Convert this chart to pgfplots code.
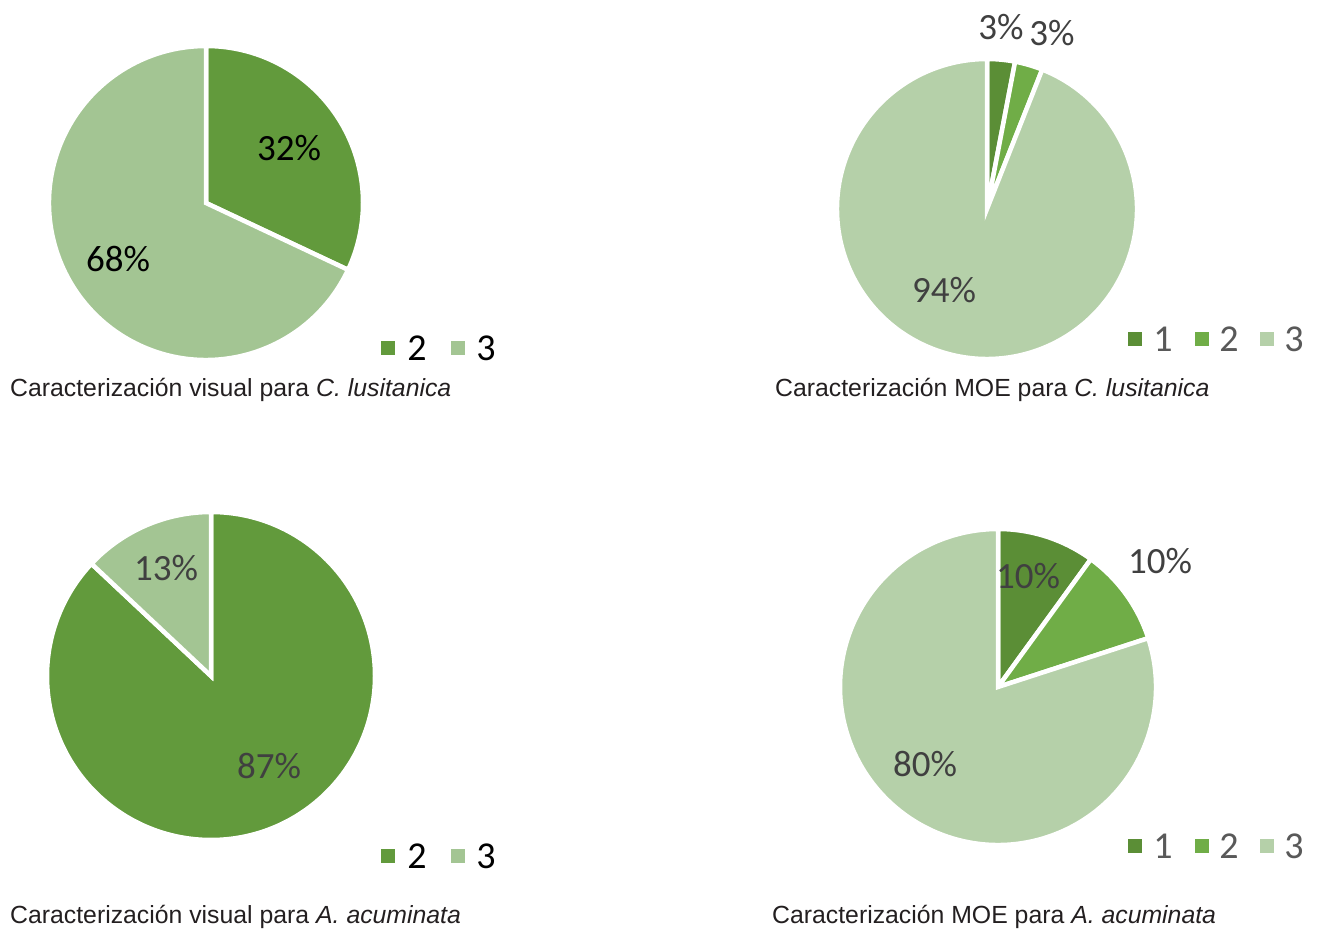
\documentclass[border=0pt]{standalone}
\usepackage{pgfplots}
\pgfplotsset{compat=1.18}
\usepackage{fontspec}
\setmainfont{Liberation Sans}
\newfontfamily\lab{Carlito}
\definecolor{dA}{HTML}{629A3C}
\definecolor{lA}{HTML}{A3C593}
\definecolor{m1}{HTML}{5B8E36}
\definecolor{m2}{HTML}{70AD47}
\definecolor{m3}{HTML}{B5D0A9}
\definecolor{tg}{HTML}{404040}
\definecolor{lg}{HTML}{595959}
\definecolor{cap}{HTML}{231F20}
\begin{document}
\begin{tikzpicture}
\begin{axis}[width=1318pt,height=929pt,scale only axis,
  xmin=0,xmax=1318,ymin=0,ymax=929,hide axis,clip=false]
% --- Pie 1: visual C. lusitanica (2: 32, 3: 68)
\fill[dA,draw=white,line width=4.5pt] (axis cs:206,726) -- ++(90:157pt) arc[start angle=90,end angle={90-3.6*32},radius=157pt] -- cycle;
\fill[lA,draw=white,line width=4.5pt] (axis cs:206,726) -- ++({90-3.6*32}:157pt) arc[start angle={90-3.6*32},end angle={90-3.6*100},radius=157pt] -- cycle;
\node[font=\lab\fontsize{37}{40}\selectfont,text=black] at (axis cs:289,781) {32\%};
\node[font=\lab\fontsize{37}{40}\selectfont,text=black] at (axis cs:118,670) {68\%};
\fill[dA] (axis cs:381,574) rectangle (axis cs:395,588);
\node[font=\lab\fontsize{38}{40}\selectfont,text=black] at (axis cs:417,581) {2};
\fill[lA] (axis cs:451,574) rectangle (axis cs:465,588);
\node[font=\lab\fontsize{38}{40}\selectfont,text=black] at (axis cs:486,581) {3};
\node[anchor=base west,inner sep=0pt,font=\fontsize{24.8}{28}\selectfont,text=cap] at (axis cs:10,532) {Caracterización visual para \textit{C. lusitanica}};
% --- Pie 2: MOE C. lusitanica (1: 3, 2: 3, 3: 94)
\fill[m1,draw=white,line width=4.5pt] (axis cs:987,720) -- ++(90:150pt) arc[start angle=90,end angle={90-3.6*3},radius=150pt] -- cycle;
\fill[m2,draw=white,line width=4.5pt] (axis cs:987,720) -- ++({90-3.6*3}:150pt) arc[start angle={90-3.6*3},end angle={90-3.6*6},radius=150pt] -- cycle;
\fill[m3,draw=white,line width=4.5pt] (axis cs:987,720) -- ++({90-3.6*6}:150pt) arc[start angle={90-3.6*6},end angle={90-3.6*100},radius=150pt] -- cycle;
\node[font=\lab\fontsize{37}{40}\selectfont,text=tg] at (axis cs:1001,902) {3\%};
\node[font=\lab\fontsize{37}{40}\selectfont,text=tg] at (axis cs:1052,896) {3\%};
\node[font=\lab\fontsize{37}{40}\selectfont,text=tg] at (axis cs:944,639) {94\%};
\fill[m1] (axis cs:1128,583) rectangle (axis cs:1142,597);
\node[font=\lab\fontsize{38}{40}\selectfont,text=lg] at (axis cs:1163,590) {1};
\fill[m2] (axis cs:1195,583) rectangle (axis cs:1209,597);
\node[font=\lab\fontsize{38}{40}\selectfont,text=lg] at (axis cs:1229,590) {2};
\fill[m3] (axis cs:1260,583) rectangle (axis cs:1274,597);
\node[font=\lab\fontsize{38}{40}\selectfont,text=lg] at (axis cs:1294,590) {3};
\node[anchor=base west,inner sep=0pt,font=\fontsize{24.8}{28}\selectfont,text=cap] at (axis cs:775,532) {Caracterización MOE para \textit{C. lusitanica}};
% --- Pie 3: visual A. acuminata (2: 87, 3: 13)
\fill[dA,draw=white,line width=4.5pt] (axis cs:211,253) -- ++(90:164pt) arc[start angle=90,end angle={90-3.6*87},radius=164pt] -- cycle;
\fill[lA,draw=white,line width=4.5pt] (axis cs:211,253) -- ++({90-3.6*87}:164pt) arc[start angle={90-3.6*87},end angle={90-3.6*100},radius=164pt] -- cycle;
\node[font=\lab\fontsize{37}{40}\selectfont,text=tg] at (axis cs:166,361) {13\%};
\node[font=\lab\fontsize{37}{40}\selectfont,text=tg] at (axis cs:269,163) {87\%};
\fill[dA] (axis cs:381,66) rectangle (axis cs:395,80);
\node[font=\lab\fontsize{38}{40}\selectfont,text=black] at (axis cs:417,73) {2};
\fill[lA] (axis cs:451,66) rectangle (axis cs:465,80);
\node[font=\lab\fontsize{38}{40}\selectfont,text=black] at (axis cs:486,73) {3};
\node[anchor=base west,inner sep=0pt,font=\fontsize{24.8}{28}\selectfont,text=cap] at (axis cs:10,5) {Caracterización visual para \textit{A. acuminata}};
% --- Pie 4: MOE A. acuminata (1: 10, 2: 10, 3: 80)
\fill[m1,draw=white,line width=4.5pt] (axis cs:998,242) -- ++(90:158pt) arc[start angle=90,end angle={90-3.6*10},radius=158pt] -- cycle;
\fill[m2,draw=white,line width=4.5pt] (axis cs:998,242) -- ++({90-3.6*10}:158pt) arc[start angle={90-3.6*10},end angle={90-3.6*20},radius=158pt] -- cycle;
\fill[m3,draw=white,line width=4.5pt] (axis cs:998,242) -- ++({90-3.6*20}:158pt) arc[start angle={90-3.6*20},end angle={90-3.6*100},radius=158pt] -- cycle;
\node[font=\lab\fontsize{37}{40}\selectfont,text=tg] at (axis cs:1028,353) {10\%};
\node[font=\lab\fontsize{37}{40}\selectfont,text=tg] at (axis cs:1160,368) {10\%};
\node[font=\lab\fontsize{37}{40}\selectfont,text=tg] at (axis cs:925,165) {80\%};
\fill[m1] (axis cs:1128,76) rectangle (axis cs:1142,90);
\node[font=\lab\fontsize{38}{40}\selectfont,text=lg] at (axis cs:1163,83) {1};
\fill[m2] (axis cs:1195,76) rectangle (axis cs:1209,90);
\node[font=\lab\fontsize{38}{40}\selectfont,text=lg] at (axis cs:1229,83) {2};
\fill[m3] (axis cs:1260,76) rectangle (axis cs:1274,90);
\node[font=\lab\fontsize{38}{40}\selectfont,text=lg] at (axis cs:1294,83) {3};
\node[anchor=base west,inner sep=0pt,font=\fontsize{24.8}{28}\selectfont,text=cap] at (axis cs:772,5) {Caracterización MOE para \textit{A. acuminata}};
\end{axis}
\pgfresetboundingbox
\path (0,0) rectangle (1318pt,929pt);
\end{tikzpicture}
\end{document}
